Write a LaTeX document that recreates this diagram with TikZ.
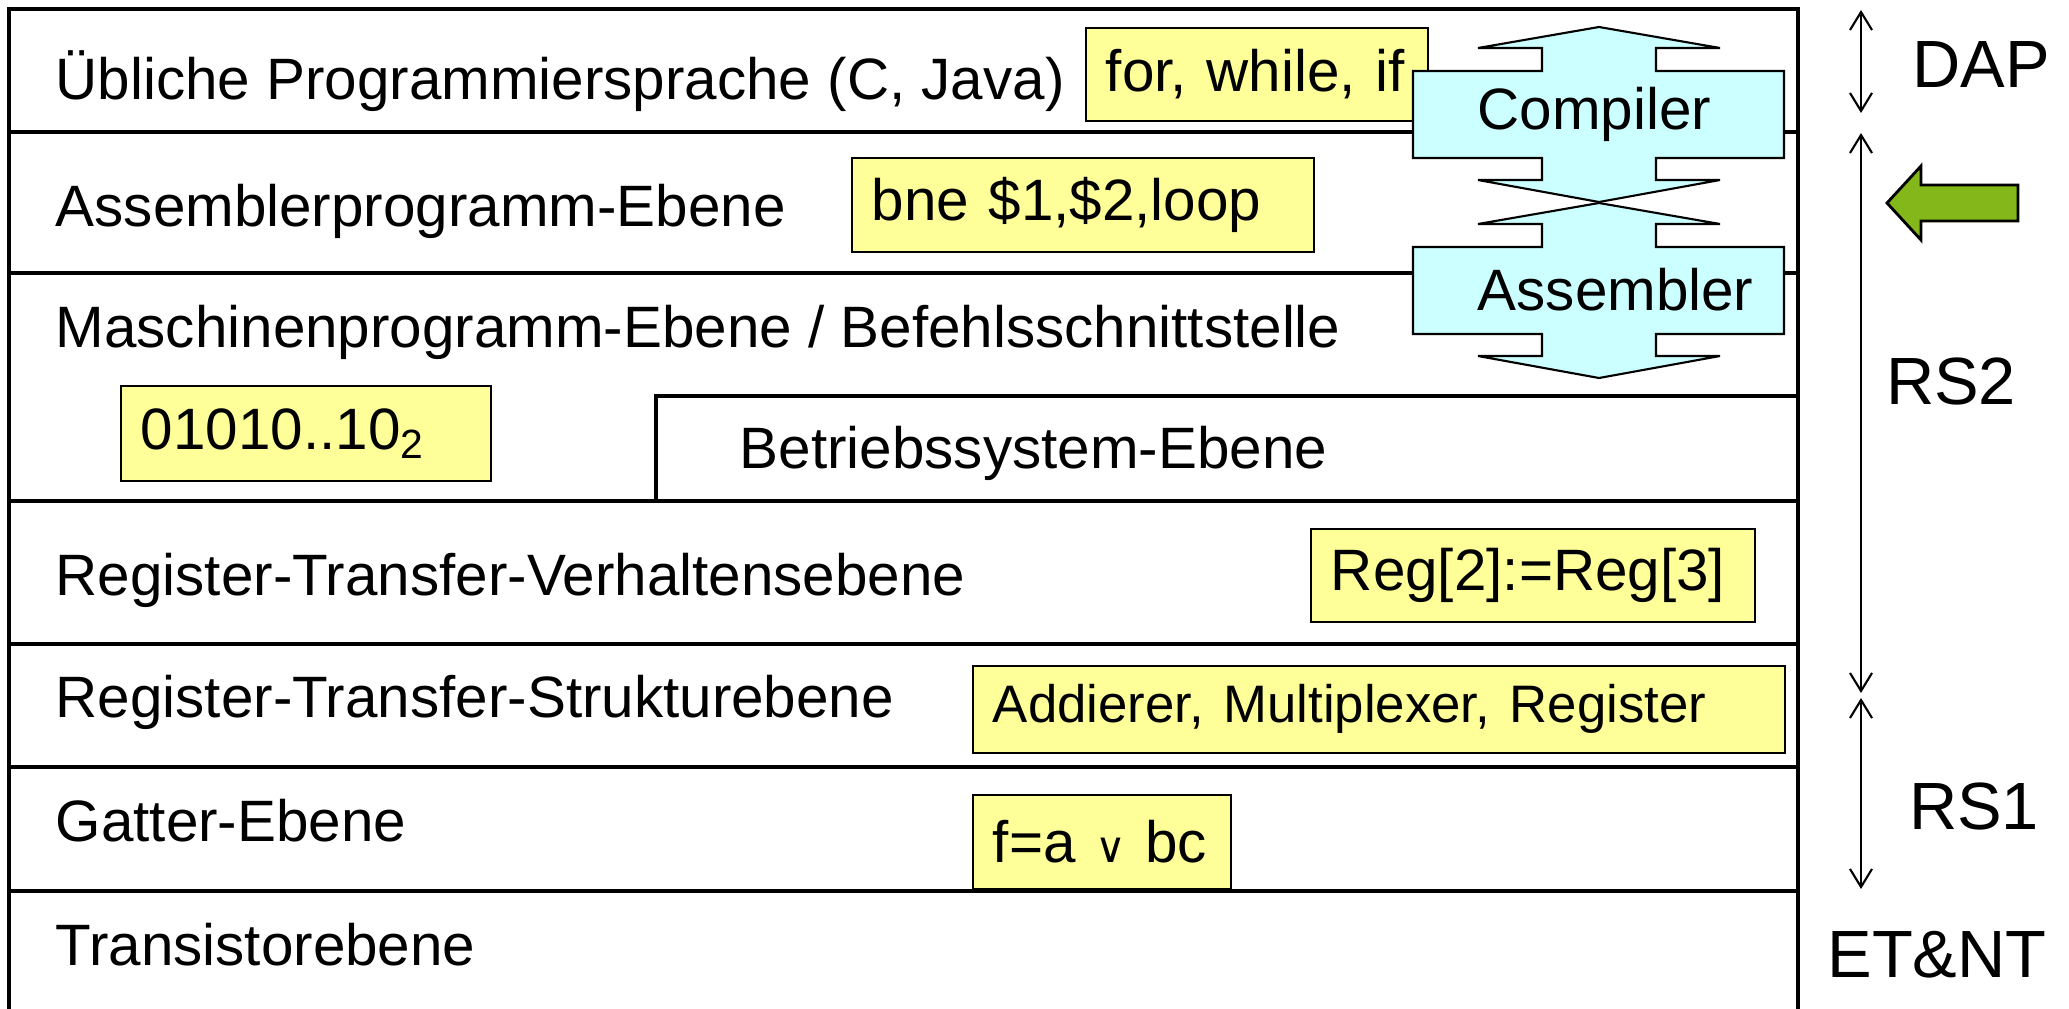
\documentclass[tikz,border=0pt]{standalone}
\usepackage{fontspec}
\setmainfont{Liberation Sans}
\newfontfamily\symfont{DejaVu Sans}
\usetikzlibrary{arrows.meta}

\definecolor{boxyellow}{HTML}{FFFF99}
\definecolor{arrowcyan}{HTML}{CCFFFF}
\definecolor{leafgreen}{HTML}{84B81A}

\tikzset{
    layerline/.style={line width=0.9pt},
    layertext/.style={anchor=base west, inner sep=0pt, font=\fontsize{16.6}{19}\selectfont},
    ybox/.style={draw, fill=boxyellow, line width=0.5pt, anchor=north west,
        inner xsep=0.2cm, inner ysep=0pt, align=left, font=\fontsize{16.6}{19}\selectfont},
    xarrow/.style={draw, fill=arrowcyan, line width=0.6pt, line join=miter},
    scalearrow/.style={line width=0.6pt, {Straight Barb[length=1.8mm,width=2.2mm]}-{Straight Barb[length=1.8mm,width=2.2mm]}},
    scaletext/.style={inner sep=0pt, font=\fontsize{19}{22}\selectfont}
}

\begin{document}
\begin{tikzpicture}[x=0.01cm, y=-0.01cm]
    \useasboundingbox (0,0) rectangle (2069,1009);

    % frame and layer borders
    \draw[layerline] (9,1020) |- (1798,9) -- (1798,1020);
    \foreach \y in {132,273,501,644,767,891} {
        \draw[layerline] (9,\y) -- (1798,\y);
    }
    \draw[layerline] (656,501) |- (1798,396);

    % names of the layers
    \foreach \nm/\x/\y/\txt in {hll/55/100/{Übliche Programmiersprache (C, Java)},
            asml/55/226/{Assemblerprogramm-Ebene},
            isa/55/347/{Maschinenprogramm-Ebene / Befehlsschnittstelle},
            os/739/468/{Betriebssystem-Ebene},
            rtv/55/595/{Register-Transfer-Verhaltensebene},
            rts/55/717/{Register-Transfer-Strukturebene},
            gate/55/841/{Gatter-Ebene},
            trans/55/965/{Transistorebene}} {
        \node[layertext] (\nm) at (\x,\y) {\txt};
    }

    % examples in yellow boxes
    \foreach \nm/\x/\y/\w/\h/\txt in {fwi/1085/27/3.42/0.93/{for, while, if},
            bne/851/157/4.62/0.94/{bne \$1,\$2,loop},
            bin/120/385/3.70/0.95/{01010..10\textsubscript{2}},
            reg/1310/528/4.44/0.93/{Reg[2]:=Reg[3]},
            add/972/665/8.12/0.87/{\fontsize{15}{18}\selectfont\strut Addierer, Multiplexer, Register},
            fab/972/794/2.58/0.94/{\mbox{f=a {\symfont\fontsize{12}{14}\selectfont ∨} bc}}} {
        \pgfmathsetmacro\tw{\w-0.4}
        \node[ybox, text width=\tw cm, minimum height=\h cm] (\nm) at (\x,\y) {\txt};
    }

    % Compiler and Assembler double arrows
    \foreach \dy/\nm/\txt in {0/comp/Compiler, 176/asm/Assembler} {
        \draw[xarrow, shift={(0,\dy)}] (1599,27) -- (1720,48) -- (1656,48) -- (1656,71)
            -- (1784,71) -- (1784,158) -- (1656,158) -- (1656,180) -- (1720,180)
            -- (1599,202) -- (1478,180) -- (1542,180) -- (1542,158) -- (1413,158)
            -- (1413,71) -- (1542,71) -- (1542,48) -- (1478,48) -- cycle;
        \node[layertext, anchor=west] (\nm) at (1477,{114+\dy}) {\txt};
    }

    % ranges of the lectures
    \coordinate (dapTop) at (1861,10);
    \coordinate (dapBot) at (1861,113);
    \coordinate (rs2Top) at (1861,133);
    \coordinate (rs2Bot) at (1861,693);
    \coordinate (rs1Top) at (1861,698);
    \coordinate (rs1Bot) at (1861,889);
    \draw[scalearrow] (dapTop) -- (dapBot);
    \draw[scalearrow] (rs2Top) -- (rs2Bot);
    \draw[scalearrow] (rs1Top) -- (rs1Bot);
    \node[scaletext] (dap) at (1981,65) {DAP};
    \node[scaletext] (rs2) at (1951,381) {RS2};
    \node[scaletext] (rs1) at (1974,806) {RS1};
    \node[scaletext] (etnt) at (1937,955) {ET\&NT};

    % green pointer
    \draw[fill=leafgreen, draw=black, line width=0.8pt] (1887,203) -- (1921,166) -- (1921,185)
        -- (2018,185) -- (2018,221) -- (1921,221) -- (1921,240) -- cycle;
\end{tikzpicture}
\end{document}
